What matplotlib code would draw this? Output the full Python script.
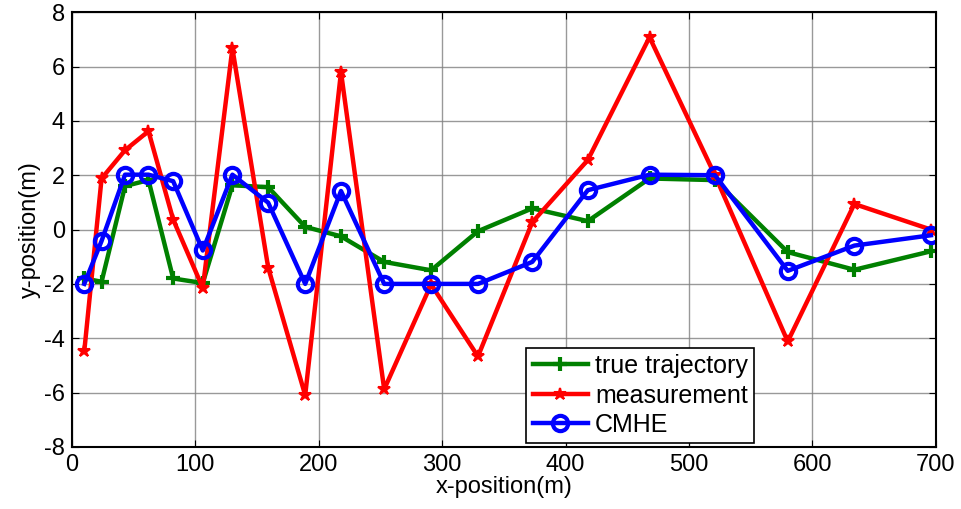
import numpy as np
import matplotlib.pyplot as plt

plt.rcParams['font.family'] = ['Liberation Sans', 'DejaVu Sans']
plt.rcParams['axes.unicode_minus'] = False

# sample positions along x (m)
x_pos = [10, 24, 43, 62, 82, 106, 130, 159, 189, 218, 253, 291, 329, 373, 418, 468, 521, 580, 634, 696]

true_y = [-1.8, -1.92, 1.6, 1.82, -1.8, -1.97, 1.63, 1.56, 0.1, -0.25, -1.19, -1.5, -0.06, 0.78, 0.31, 1.88, 1.82, -0.83, -1.48, -0.8]
meas_y = [-4.47, 1.88, 2.92, 3.62, 0.37, -2.15, 6.67, -1.4, -6.1, 5.8, -5.88, -2.02, -4.67, 0.27, 2.56, 7.08, 2.0, -4.12, 0.94, 0.0]
cmhe_y = [-2.0, -0.42, 2.02, 2.02, 1.78, -0.77, 2.02, 0.99, -2.0, 1.42, -2.0, -2.0, -2.0, -1.19, 1.45, 2.02, 2.0, -1.52, -0.59, -0.21]

fig = plt.figure(figsize=(9.62, 5.09), dpi=100)
ax = fig.add_axes([0.0748, 0.122, 0.898, 0.854])

ax.plot(x_pos, true_y, color='#008000', lw=3.2, marker='+', ms=10, mew=3, label='true trajectory')
ax.plot(x_pos, meas_y, color='#ff0000', lw=3.2, marker='*', ms=9, mew=1.5, label='measurement')
ax.plot(x_pos, cmhe_y, color='#0000ff', lw=3.2, marker='o', ms=11, mew=3, mfc='none', label='CMHE')

ax.set_xlim(0, 700)
ax.set_ylim(-8, 8)
ax.set_xticks(np.arange(0, 701, 100))
ax.set_yticks(np.arange(-8, 9, 2))
ax.grid(True, color='#808080', lw=1, alpha=0.8)
ax.set_axisbelow(True)
ax.tick_params(direction='in', top=True, right=True, labelsize=17, length=5, pad=5)
for s in ax.spines.values():
    s.set_linewidth(1.5)

ax.set_xlabel('x-position(m)', fontsize=17, labelpad=0)
ax.set_ylabel('y-position(m)', fontsize=17, labelpad=2)

leg = ax.legend(loc='lower left', bbox_to_anchor=(0.526, 0.008), fontsize=18, fancybox=False,
                framealpha=1, edgecolor='black', borderpad=0.25, handlelength=2.2,
                handletextpad=0.3, labelspacing=0.22, borderaxespad=0)
leg.get_frame().set_linewidth(1.2)

fig.savefig('out.png', dpi=100)
